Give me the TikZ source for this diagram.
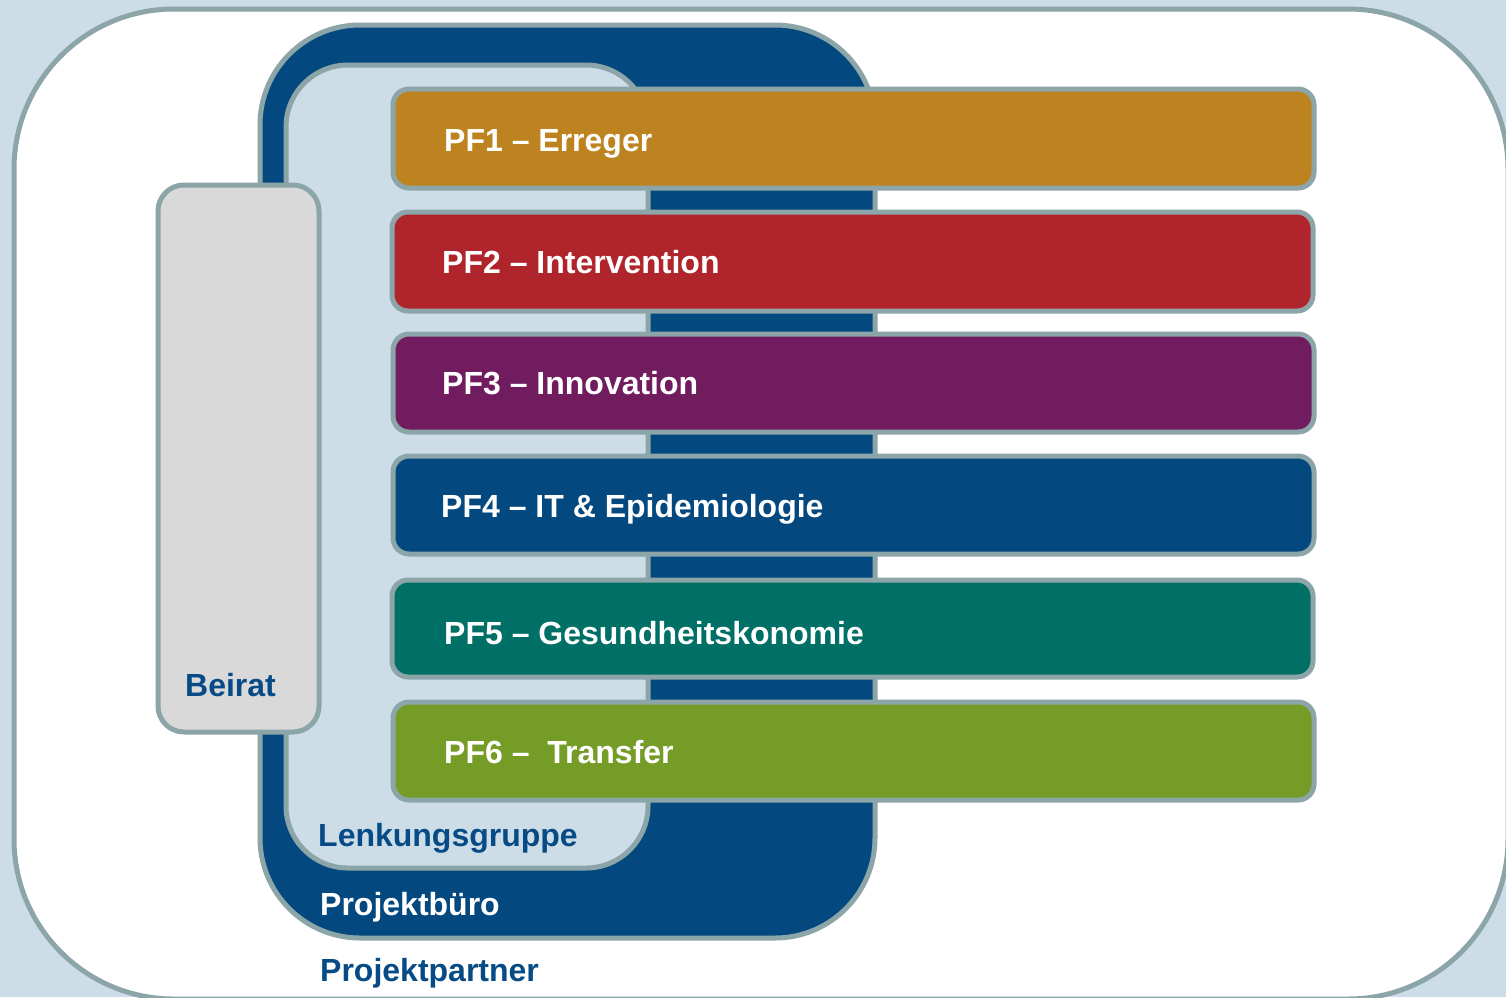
\documentclass[tikz,border=0pt]{standalone}
\usepackage{fontspec}
\setmainfont{Liberation Sans}
\definecolor{bgblue}{HTML}{CCDDE8}
\definecolor{edgegray}{HTML}{8CA5A8}
\definecolor{darkblue}{HTML}{03497F}
\definecolor{pforange}{HTML}{BE8321}
\definecolor{pfred}{HTML}{B0242C}
\definecolor{pfpurple}{HTML}{701C5E}
\definecolor{pfblue}{HTML}{03497F}
\definecolor{pfteal}{HTML}{006F66}
\definecolor{pfgreen}{HTML}{749C26}
\definecolor{beiratgray}{HTML}{D9D9D9}
\definecolor{textblue}{HTML}{064B85}
\tikzset{
  frame/.style={draw=edgegray, line width=5bp},
  pfbar/.style={frame, rounded corners=16bp},
  pflabel/.style={anchor=base west, inner sep=0pt, text=white, font=\fontsize{32bp}{36bp}\selectfont\bfseries},
  bluelabel/.style={anchor=base west, inner sep=0pt, text=textblue, font=\fontsize{32bp}{36bp}\selectfont\bfseries},
}
\begin{document}
\begin{tikzpicture}[x=1bp, y=-1bp]
\useasboundingbox (0,0) rectangle (1506,997);
\clip (0,0) rectangle (1506,997);
\fill[bgblue] (0,0) rectangle (1506,997);
% Projektpartner (outer)
\draw[frame, fill=white, rounded corners=160bp] (14,9) rectangle (1508,999);
% Projektbuero
\draw[frame, fill=darkblue, rounded corners=100bp] (260,25) rectangle (875,938);
% Lenkungsgruppe
\draw[frame, fill=bgblue, rounded corners=62bp] (286,65) rectangle (648,868);
% Beirat
\draw[frame, fill=beiratgray, rounded corners=26bp] (158,185) rectangle (319,732);
% PF bars
\draw[pfbar, fill=pforange] (393,89) rectangle (1314,188);
\draw[pfbar, fill=pfred] (392,212) rectangle (1313,311);
\draw[pfbar, fill=pfpurple] (393,334) rectangle (1314,432);
\draw[pfbar, fill=pfblue] (393,456) rectangle (1314,554);
\draw[pfbar, fill=pfteal] (392,580) rectangle (1313,677);
\draw[pfbar, fill=pfgreen] (393,702) rectangle (1314,800);
% labels
\node[pflabel] (pf1) at (444,151) {PF1 – Erreger};
\node[pflabel] (pf2) at (442,273) {PF2 – Intervention};
\node[pflabel] (pf3) at (442,394) {PF3 – Innovation};
\node[pflabel] (pf4) at (441,517) {PF4 – IT \& Epidemiologie};
\node[pflabel] (pf5) at (444,644) {PF5 – Gesundheitskonomie};
\node[pflabel] (pf6) at (444,763) {PF6 –\ \ Transfer};
\node[bluelabel] (beirat) at (185,696) {Beirat};
\node[bluelabel] (lenk) at (318,846) {Lenkungsgruppe};
\node[pflabel] (buero) at (320,915) {Projektbüro};
\node[bluelabel] (partner) at (320,981) {Projektpartner};
\end{tikzpicture}
\end{document}
